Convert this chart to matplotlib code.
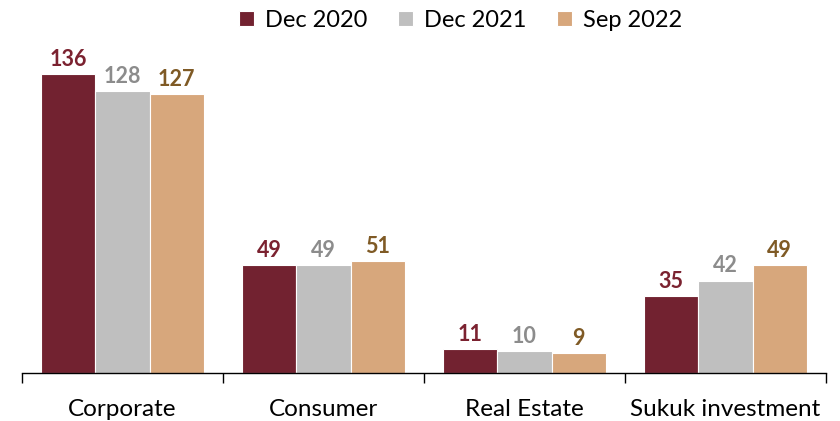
import matplotlib
matplotlib.use("Agg")
import matplotlib.pyplot as plt
import numpy as np

categories = ["Corporate", "Consumer", "Real Estate", "Sukuk investment"]
series_names = ["Dec 2020", "Dec 2021", "Sep 2022"]
dec2020 = [136, 49, 11, 35]
dec2021 = [128, 49, 10, 42]
sep2022 = [127, 51, 9, 49]

bar_colors = ["#722230", "#BFBFBF", "#D7A77C"]
label_colors = ["#7B2230", "#8C8C8C", "#7F5A25"]

plt.rcParams['font.family'] = ['Lato', 'DejaVu Sans']

fig = plt.figure(figsize=(8.4, 4.21), dpi=100)
ax = fig.add_axes([22/840, 48/421, 804/840, 333/421])

x = np.arange(len(categories))
w = 0.27
for i, (vals, name) in enumerate(zip([dec2020, dec2021, sep2022], series_names)):
    pos = x + (i - 1) * w
    ax.bar(pos, vals, width=w, color=bar_colors[i], edgecolor="white",
           linewidth=0.8, label=name)
    for xp, v in zip(pos, vals):
        ax.annotate(str(v), (xp, v), xytext=(0, 3), textcoords="offset points",
                    ha="center", va="bottom", fontsize=15.5, fontweight="bold",
                    color=label_colors[i])

ax.set_xlim(-0.5, len(categories) - 0.5)
ax.set_ylim(0, 151.4)
ax.set_yticks([])
for s in ["left", "right", "top"]:
    ax.spines[s].set_visible(False)
ax.spines["bottom"].set_color("#000000")
ax.spines["bottom"].set_linewidth(1.0)

ax.set_xticks(np.arange(-0.5, len(categories)), minor=False)
ax.set_xticklabels([])
ax.tick_params(axis="x", which="major", direction="out", length=7, width=1.0, color="#000000")
ax.set_xticks(x, minor=True)
ax.set_xticklabels(categories, minor=True, fontsize=17.5)
ax.tick_params(axis="x", which="minor", length=0, pad=19)

fig.legend(loc="upper center", bbox_to_anchor=(0.548, 1.005), ncol=3, frameon=False,
           fontsize=17, handlelength=0.65, handleheight=0.65, handletextpad=0.45,
           columnspacing=1.3, borderaxespad=0.1)

fig.savefig("out.png", dpi=100)
